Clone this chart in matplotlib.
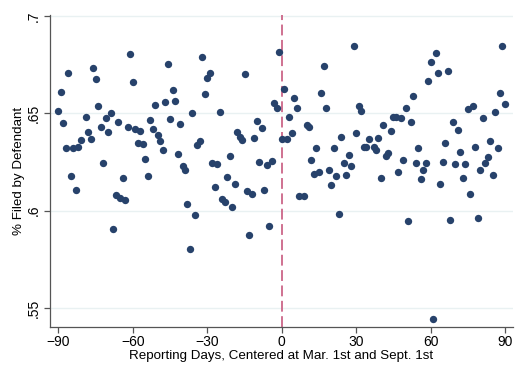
import matplotlib
matplotlib.use("Agg")
import matplotlib.pyplot as plt

# binned scatter: share filed by defendant, by reporting day
days_before = [-90, -89, -88, -87, -86, -85, -84, -83, -82, -81,
               -79, -78, -77, -76, -75, -74, -73, -72, -71, -70,
               -69, -68, -67, -66, -65, -64, -63, -62, -61, -60,
               -59, -58, -57, -56, -55, -54, -53, -52, -51, -50,
               -49, -48, -47, -46, -45, -44, -43, -42, -41, -40,
               -39, -38, -37, -36, -35, -34, -33, -32, -31, -30,
               -29, -28, -27, -26, -25, -24, -23, -22, -21, -20,
               -19, -18, -17, -16, -15, -14, -13, -12, -11, -10,
               -9, -8, -7, -6, -5, -4, -3, -2, -1]
share_before = [.6513, .6611, .6452, .6321, .6705, .6179, .6321, .6104, .6326, .6363,
                .6480, .6406, .6367, .6730, .6676, .6539, .6428, .6244, .6474, .6406,
                .6502, .5906, .6083, .6455, .6065, .6169, .6053, .6431, .6802, .6662,
                .6418, .6346, .6411, .6341, .6266, .6179, .6464, .6418, .6542, .6389,
                .6358, .6309, .6556, .6752, .6472, .6619, .6563, .6290, .6447, .6230,
                .6210, .6034, .5804, .6500, .5978, .6338, .6360, .6790, .6599, .6679,
                .6705, .6244, .6124, .6240, .6508, .6061, .6044, .6175, .6281, .6019,
                .6136, .6403, .6377, .6363, .6700, .6099, .5877, .6087, .6375, .6462,
                .6251, .6423, .6104, .6232, .5923, .6256, .6551, .6526, .6812]

days_after = [0, 1, 2, 3, 4, 5, 6, 7, 9, 10,
              11, 12, 13, 14, 15, 16, 17, 18, 19, 20,
              21, 22, 23, 24, 25, 26, 27, 28, 29, 30,
              31, 32, 33, 34, 35, 37, 38, 39, 40, 41,
              42, 43, 44, 45, 46, 47, 48, 49, 50, 51,
              52, 53, 54, 55, 56, 57, 58, 59, 60, 61,
              62, 63, 64, 65, 66, 67, 68, 69, 70, 71,
              72, 73, 74, 75, 76, 77, 78, 79, 80, 81,
              82, 83, 84, 85, 86, 87, 88, 89, 90]
share_after = [.6368, .6624, .6368, .6480, .6401, .6577, .6526, .6073, .6078, .6440,
               .6428, .6261, .6189, .6322, .6201, .6602, .6742, .6526, .6208, .6133,
               .6322, .6179, .5984, .6379, .6247, .6184, .6287, .6227, .6846, .6401,
               .6539, .6513, .6329, .6329, .6367, .6326, .6309, .6375, .6170, .6442,
               .6281, .6298, .6409, .6480, .6480, .6201, .6477, .6261, .6529, .5945,
               .6454, .6587, .6247, .6324, .6164, .6210, .6247, .6665, .6764, .5447,
               .6810, .6708, .6138, .6252, .6346, .6717, .5950, .6457, .6242, .6414,
               .6303, .6170, .6240, .6520, .6087, .6537, .6327, .5965, .6210, .6477,
               .6244, .6278, .6360, .6183, .6505, .6321, .6605, .6846, .6548]

xticks = [-90, -60, -30, 0, 30, 60, 90]
yticks = [.55, .6, .65, .7]
ytick_labels = [".55", ".6", ".65", ".7"]

plt.rcParams["font.family"] = ["Liberation Sans", "DejaVu Sans"]

fig = plt.figure(figsize=(5.16, 3.70), dpi=100)
ax = fig.add_axes([0.097, 0.117, 0.897, 0.842])

navy = "#27426b"
ax.scatter(days_before + days_after, share_before + share_after,
           s=28, color=navy, linewidths=0, zorder=3)
ax.axvline(0, color="#cc6688", lw=1.3, ls=(0, (6, 2.5)), zorder=2)

ax.set_xlim(-93.4, 93.2)
ax.set_ylim(0.5405, 0.7003)
ax.set_xticks(xticks)
ax.set_yticks(yticks)
ax.set_yticklabels(ytick_labels, rotation=90, va="center")
ax.yaxis.grid(True, color="#e9f1f2", lw=1.0)
ax.set_axisbelow(True)

for side in ["top", "right"]:
    ax.spines[side].set_visible(False)
for side in ["left", "bottom"]:
    ax.spines[side].set_color("#555555")
    ax.spines[side].set_linewidth(0.9)
ax.tick_params(axis="both", colors="#555555", labelcolor="black",
               labelsize=10, length=4, width=0.9, direction="out")
ax.tick_params(axis="x", pad=2)
ax.tick_params(axis="y", pad=3)

ax.set_xlabel("Reporting Days, Centered at Mar. 1st and Sept. 1st", fontsize=9.6, labelpad=1)
ax.set_ylabel("% Filed by Defendant", fontsize=9.6, labelpad=1)

fig.savefig("out.png", dpi=100)
